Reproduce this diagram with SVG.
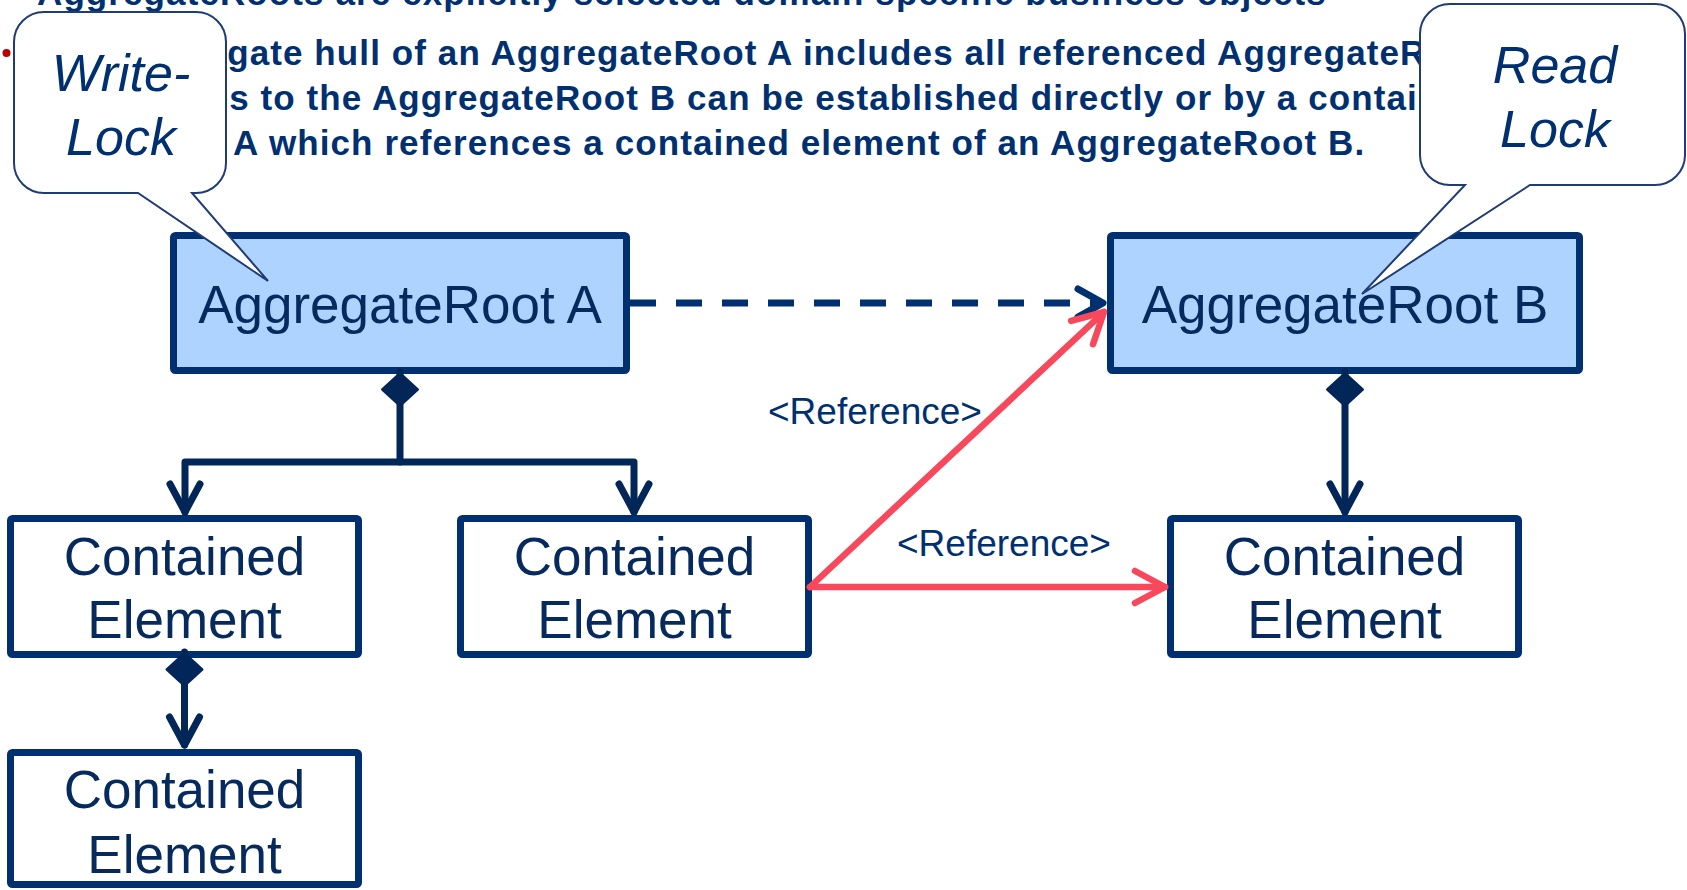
<svg xmlns="http://www.w3.org/2000/svg" width="1687" height="890" viewBox="0 0 1687 890">
  <style>
    .para{font-family:"Liberation Sans",Arial,sans-serif;font-weight:bold;font-size:35px;letter-spacing:1.1px;fill:#003070}
    .box{stroke:#003070;stroke-width:7}
    .root{fill:#AFD3FF}
    .elem{fill:#FFFFFF}
    .label{font-family:"Liberation Sans",Arial,sans-serif;font-size:53px;fill:#062A5E;text-anchor:middle}
    .ref{font-family:"Liberation Sans",Arial,sans-serif;font-size:37px;fill:#003070}
    .comp{fill:none;stroke:#032658;stroke-width:7;stroke-linejoin:round;stroke-linecap:round}
    .refline{fill:none;stroke:#F8485C;stroke-width:6.5;stroke-linecap:round}
    .dep{fill:none;stroke:#003070;stroke-width:7;stroke-dasharray:26 20}
    .bubble{fill:#FFFFFF;stroke:#1F3C78;stroke-width:2}
    .note{font-family:"Liberation Sans",Arial,sans-serif;font-style:italic;font-size:52px;fill:#003070;text-anchor:middle}
  </style>
  <defs>
    <!-- filled composition diamond, placed at the owning end -->
    <marker id="diamond" markerUnits="userSpaceOnUse" viewBox="-2 -22 40 44" refX="0" refY="0" markerWidth="40" markerHeight="44" orient="auto">
      <path d="M1.5,0 L17.5,-17.5 L33.5,0 L17.5,17.5 Z" fill="#032658" stroke="#032658" stroke-width="3" stroke-linejoin="round"/>
    </marker>
    <marker id="arrow-navy" markerUnits="userSpaceOnUse" viewBox="-40 -25 50 50" refX="0" refY="0" markerWidth="50" markerHeight="50" orient="auto">
      <path d="M-28,-15 L0,0 L-28,15" fill="none" stroke="#032658" stroke-width="7" stroke-linecap="round" stroke-linejoin="round"/>
    </marker>
    <marker id="arrow-red" markerUnits="userSpaceOnUse" viewBox="-40 -25 50 50" refX="0" refY="0" markerWidth="50" markerHeight="50" orient="auto">
      <path d="M-30,-16 L0,0 L-30,16" fill="none" stroke="#F8485C" stroke-width="6.5" stroke-linecap="round" stroke-linejoin="round"/>
    </marker>
    <marker id="arrow-dep" markerUnits="userSpaceOnUse" viewBox="-40 -25 50 50" refX="0" refY="0" markerWidth="50" markerHeight="50" orient="auto">
      <path d="M-25,-14 L0,0 L-25,14" fill="none" stroke="#003070" stroke-width="7" stroke-linecap="round" stroke-linejoin="round"/>
    </marker>
  </defs>

  <!-- slide text -->
  <g id="slide-text">
    <text class="para" x="37" y="5">AggregateRoots are explicitly selected domain specific business objects</text>
    <circle cx="6.5" cy="53" r="4" fill="#C00000"/>
    <text class="para" x="50" y="65">The aggregate hull of an AggregateRoot A includes all referenced AggregateRoots.</text>
    <text class="para" x="50" y="110">References to the AggregateRoot B can be established directly or by a contained</text>
    <text class="para" x="233" y="155">A which references a contained element of an AggregateRoot B.</text>
  </g>

  <!-- nodes -->
  <g id="aggregate-root-a">
    <rect class="box root" x="173.5" y="235.5" width="453" height="135" rx="2"/>
    <text class="label" x="400" y="323">AggregateRoot A</text>
  </g>
  <g id="aggregate-root-b">
    <rect class="box root" x="1110.5" y="235.5" width="469" height="135" rx="2"/>
    <text class="label" x="1345" y="323">AggregateRoot B</text>
  </g>
  <g id="contained-a1">
    <rect class="box elem" x="10.5" y="518.5" width="348" height="136" rx="2"/>
    <text class="label" x="184.5" y="575">Contained</text>
    <text class="label" x="184.5" y="638">Element</text>
  </g>
  <g id="contained-a2">
    <rect class="box elem" x="460.5" y="518.5" width="348" height="136" rx="2"/>
    <text class="label" x="634.5" y="575">Contained</text>
    <text class="label" x="634.5" y="638">Element</text>
  </g>
  <g id="contained-a1-child">
    <rect class="box elem" x="10.5" y="752.5" width="348" height="132" rx="2"/>
    <text class="label" x="184.5" y="808">Contained</text>
    <text class="label" x="184.5" y="873">Element</text>
  </g>
  <g id="contained-b1">
    <rect class="box elem" x="1170.5" y="518.5" width="348" height="136" rx="2"/>
    <text class="label" x="1344.5" y="575">Contained</text>
    <text class="label" x="1344.5" y="638">Element</text>
  </g>

  <!-- connectors -->
  <g id="connectors">
    <path class="comp" d="M400,372 V462 H185 V512" marker-start="url(#diamond)" marker-end="url(#arrow-navy)"/>
    <path class="comp" d="M400,462 H634 V512" marker-end="url(#arrow-navy)"/>
    <path class="comp" d="M1345,372 V512" marker-start="url(#diamond)" marker-end="url(#arrow-navy)"/>
    <path class="comp" d="M184.5,652 V745" marker-start="url(#diamond)" marker-end="url(#arrow-navy)"/>
    <path class="dep" d="M630,303 H1103" marker-end="url(#arrow-dep)"/>
    <path class="refline" d="M810,587 L1104,312" marker-end="url(#arrow-red)"/>
    <path class="refline" d="M810,587 H1165" marker-end="url(#arrow-red)"/>
    <text class="ref" x="768" y="424">&lt;Reference&gt;</text>
    <text class="ref" x="897" y="556">&lt;Reference&gt;</text>
  </g>

  <!-- callouts -->
  <g id="callout-write-lock">
    <path class="bubble" d="M44,12 H196 A30,30 0 0 1 226,42 V163 A30,30 0 0 1 196,193 H192 L268,281 L138,193 H44 A30,30 0 0 1 14,163 V42 A30,30 0 0 1 44,12 Z"/>
    <text class="note" x="121" y="91">Write-</text>
    <text class="note" x="121" y="155">Lock</text>
  </g>
  <g id="callout-read-lock">
    <path class="bubble" d="M1450,4 H1655 A30,30 0 0 1 1685,34 V155 A30,30 0 0 1 1655,185 H1530 L1362,294 L1465,185 H1450 A30,30 0 0 1 1420,155 V34 A30,30 0 0 1 1450,4 Z"/>
    <text class="note" x="1555" y="83">Read</text>
    <text class="note" x="1555" y="147">Lock</text>
  </g>
</svg>
